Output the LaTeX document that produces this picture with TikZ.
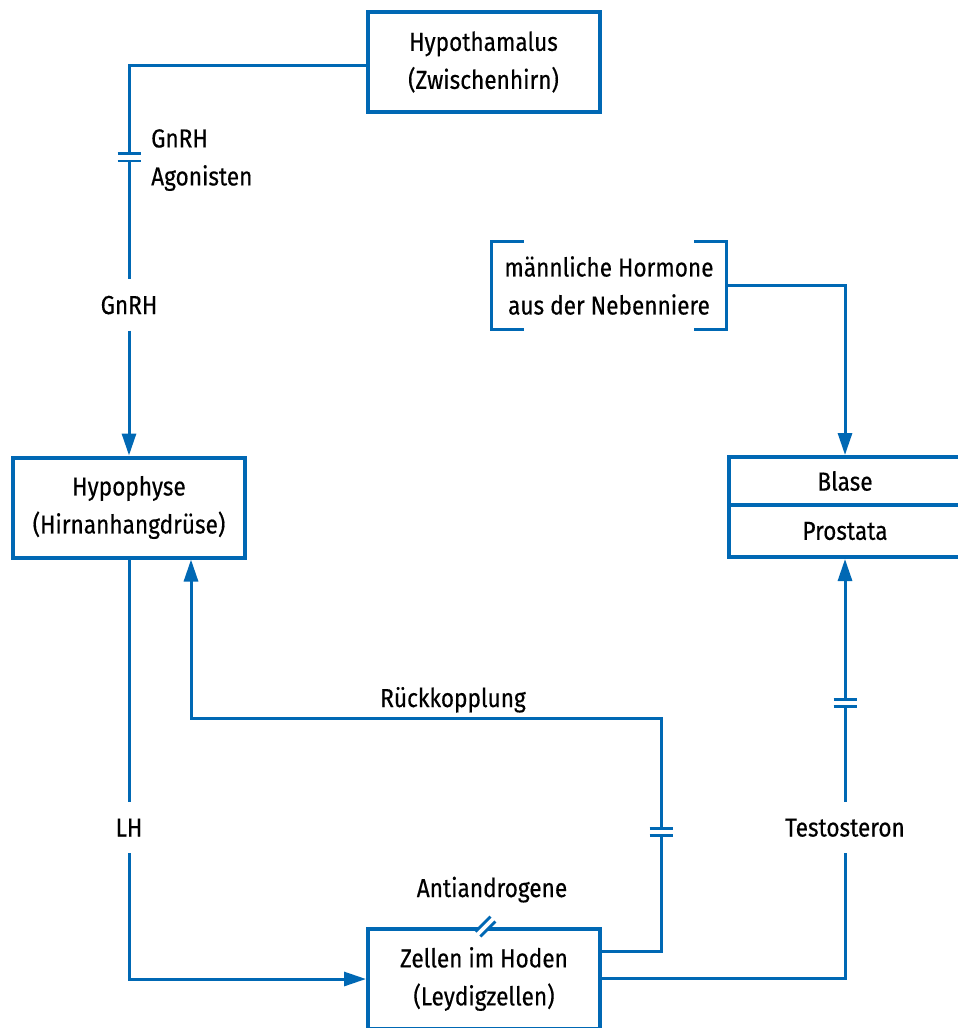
\documentclass[tikz,border=0pt]{standalone}
\usepackage{fontspec}
\setmainfont[FakeStretch=0.87,FakeBold=0.4]{Fira Sans}
\usetikzlibrary{calc,arrows.meta}
\definecolor{dblue}{RGB}{0,104,180}
\begin{document}
\begin{tikzpicture}[x=1pt,y=-1pt,
  txt/.style={font=\fontsize{26}{38}\selectfont, text=black},
  box/.style={txt, draw=dblue, line width=4pt, minimum width=232pt, minimum height=100pt, inner sep=0pt, align=center},
  lbl/.style={txt, inner sep=0pt, text height=18pt, text depth=0pt},
  gaplbl/.style={lbl, minimum height=51pt},
  conn/.style={draw=dblue, line width=3pt},
  arr/.style={conn, -{Triangle[length=22pt,width=14pt]}},
  brk/.style={draw=dblue, line width=3.6pt},
  bar/.style={draw=dblue, line width=2.8pt}
]
\useasboundingbox (0,0) rectangle (958,1028);
\clip (0,0) rectangle (958,1028);
\fill[white] (0,0) rectangle (958,1028);

% boxes
\node[box] (hyth) at (483.5,62) {Hypothamalus\\(Zwischenhirn)};
\node[box] (hypo) at (129,507.5) {Hypophyse\\(Hirnanhangdrüse)};
\node[box] (zellen) at (484,979) {Zellen im Hoden\\(Leydigzellen)};
\node[box, minimum height=48pt] (blase) at (845,481) {Blase};
\node[box, minimum height=52pt] (prostata) at (845,531) {Prostata};
\node[txt, inner sep=0pt, minimum width=234.4pt, minimum height=87.4pt, align=center] (br) at (609,285.5) {männliche Hormone\\aus der Nebenniere};
\draw[brk] ($(br.north west)+(32,0)$) -- (br.north west) -- (br.south west) -- ++(32,0);
\draw[brk] ($(br.north east)+(-32,0)$) -- (br.north east) -- (br.south east) -- ++(-32,0);

% labels
\node[txt, inner sep=0pt, align=left, anchor=north west] (agon) at (151,129) {GnRH\\Agonisten};
\node[gaplbl] (gnrh) at (129,305) {GnRH};
\node[gaplbl] (lh) at (129,827.5) {LH};
\node[gaplbl] (testo) at (845,827.5) {Testosteron};
\node[lbl] (rueck) at (453,698) {Rückkopplung};
\node[lbl] (anti) at (492,888) {Antiandrogene};

% GnRH path
\coordinate (g1) at (129,153.5);
\coordinate (g2) at (129,161);
\draw[conn] ($(hyth.west)+(0,3)$) -| (g1);
\draw[conn] (g2) -- (gnrh.north);
\draw[bar] ($(g1)+(-11.5,0)$) -- ++(23,0);
\draw[bar] ($(g2)+(-11.5,0)$) -- ++(23,0);
\draw[arr] (gnrh.south) -- (hypo.north);

% LH path
\draw[conn] (hypo.south) -- (lh.north);
\draw[arr] (lh.south) |- (zellen.west);

% Rueckkopplung
\coordinate (r1) at (661,835.5);
\coordinate (r2) at (661,828.5);
\coordinate (rc) at (661,718);
\coordinate (rk) at (191,718);
\draw[conn] ($(zellen.east)+(0,-28)$) -| (r1);
\draw[bar] ($(r1)+(-11.5,0)$) -- ++(23,0);
\draw[bar] ($(r2)+(-11.5,0)$) -- ++(23,0);
\draw[arr] (r2) -- (rc) -- (rk) -- (rk |- hypo.south);

% Testosteron
\coordinate (t1) at (845,706.5);
\coordinate (t2) at (845,699.5);
\draw[conn] ($(zellen.east)+(0,-1)$) -| (testo.south);
\draw[conn] (testo.north) -- (t1);
\draw[bar] ($(t1)+(-11.5,0)$) -- ++(23,0);
\draw[bar] ($(t2)+(-11.5,0)$) -- ++(23,0);
\draw[arr] (t2) -- (prostata.south);

% Nebenniere
\draw[arr] (br.east) -| (blase.north);

% Antiandrogene double slash
\coordinate (sl) at (485.5,926.5);
\draw[white, line width=5pt] ($(sl)+(-7,7)$) -- ($(sl)+(7,-7)$);
\draw[bar] ($(sl)+(-2.4,-2.4)+(-7.5,7.5)$) -- ($(sl)+(-2.4,-2.4)+(7.5,-7.5)$);
\draw[bar] ($(sl)+(2.4,2.4)+(-7.5,7.5)$) -- ($(sl)+(2.4,2.4)+(7.5,-7.5)$);
\end{tikzpicture}
\end{document}
